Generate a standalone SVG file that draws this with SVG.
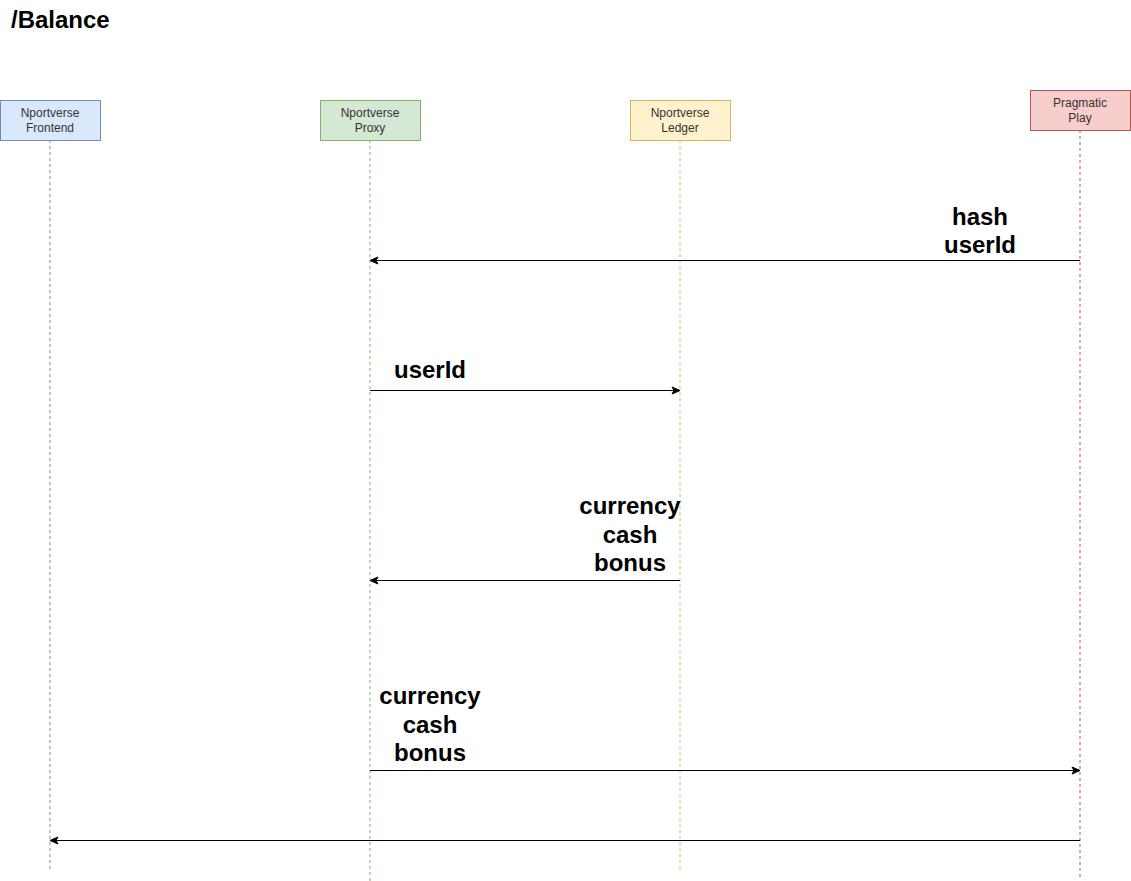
<svg xmlns="http://www.w3.org/2000/svg" width="1131" height="881" viewBox="0 0 1131 881">
<style>
.node text{font-family:"Liberation Sans",Arial,sans-serif;font-size:12px;fill:#333333;text-anchor:middle}
.life{fill:none;stroke-dasharray:3 3;stroke-width:1}
.msg{stroke:#000;stroke-width:1;fill:none;marker-end:url(#arr)}
.lbl{font-family:"Liberation Sans",Arial,sans-serif;font-size:24px;font-weight:bold;fill:#000;text-anchor:middle}
</style>
<defs>
<marker id="arr" viewBox="0 0 10 10" refX="9" refY="5" markerWidth="10" markerHeight="10" markerUnits="userSpaceOnUse" orient="auto">
<path d="M1,1.5 L9,5 L1,8.5 L3,5 Z" fill="#000" stroke="#000" stroke-width="1"/>
</marker>
</defs>
<rect width="1131" height="881" fill="#fff"/>
<text x="11" y="28" font-family="'Liberation Sans',Arial,sans-serif" font-size="24" font-weight="bold" fill="#000">/Balance</text>
<g id="frontend" class="node">
<line class="life" x1="50" y1="140" x2="50" y2="870" stroke="#6c8ebf"/>
<rect x="0.5" y="100.5" width="100" height="40" fill="#dae8fc" stroke="#6c8ebf"/>
<text x="50" y="117">Nportverse</text>
<text x="50" y="132">Frontend</text>
</g>
<g id="proxy" class="node">
<line class="life" x1="370" y1="140" x2="370" y2="881" stroke="#82b366"/>
<rect x="320.5" y="100.5" width="100" height="40" fill="#d5e8d4" stroke="#82b366"/>
<text x="370" y="117">Nportverse</text>
<text x="370" y="132">Proxy</text>
</g>
<g id="ledger" class="node">
<line class="life" x1="680" y1="140" x2="680" y2="869" stroke="#d6b656"/>
<rect x="630.5" y="100.5" width="100" height="40" fill="#fff2cc" stroke="#d6b656"/>
<text x="680" y="117">Nportverse</text>
<text x="680" y="132">Ledger</text>
</g>
<g id="pragmatic" class="node">
<line class="life" x1="1080" y1="130" x2="1080" y2="878" stroke="#b85450"/>
<rect x="1030.5" y="90.5" width="100" height="40" fill="#f8cecc" stroke="#b85450"/>
<text x="1080" y="107">Pragmatic</text>
<text x="1080" y="122">Play</text>
</g>
<g id="connectors">
<line class="msg" x1="1080" y1="260.5" x2="370" y2="260.5"/>
<line class="msg" x1="370" y1="390.5" x2="680" y2="390.5"/>
<line class="msg" x1="680" y1="580.5" x2="370" y2="580.5"/>
<line class="msg" x1="370" y1="770.5" x2="1080" y2="770.5"/>
<line class="msg" x1="1080" y1="840.5" x2="50" y2="840.5"/>
</g>
<g id="labels">
<text class="lbl" x="980" y="225">hash</text>
<text class="lbl" x="980" y="253">userId</text>
<text class="lbl" x="430" y="378">userId</text>
<text class="lbl" x="630" y="514">currency</text>
<text class="lbl" x="630" y="543">cash</text>
<text class="lbl" x="630" y="571">bonus</text>
<text class="lbl" x="430" y="704">currency</text>
<text class="lbl" x="430" y="733">cash</text>
<text class="lbl" x="430" y="761">bonus</text>
</g>
</svg>
